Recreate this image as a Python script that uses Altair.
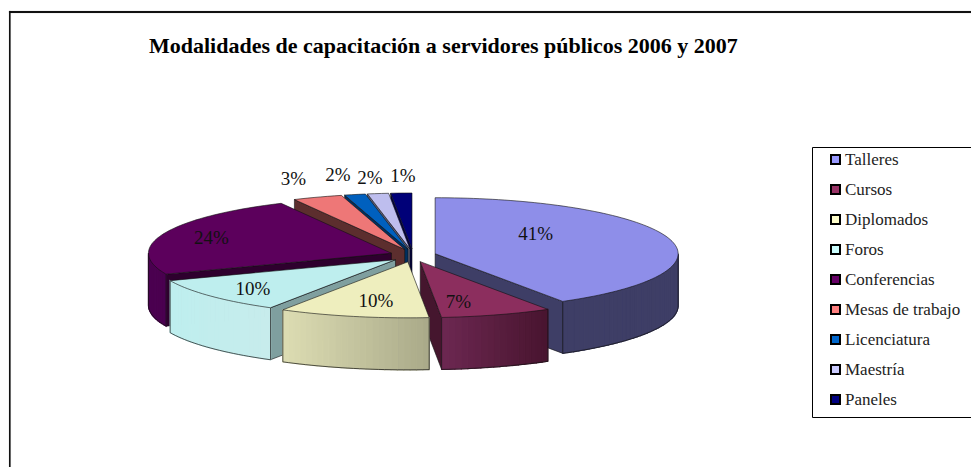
import math
import altair as alt

TITLE = "Modalidades de capacitación a servidores públicos 2006 y 2007"
categories = ["Talleres", "Cursos", "Diplomados", "Foros", "Conferencias",
              "Mesas de trabajo", "Licenciatura", "Maestría", "Paneles"]
# slice sizes as estimated from the drawn angles; printed labels as shown
shares = [41.2, 7.4, 10.0, 10.3, 23.6, 3.3, 1.4, 1.4, 1.4]
labels = ["41%", "7%", "10%", "10%", "24%", "3%", "2%", "2%", "1%"]
legend_colors = ["#9999FF", "#993366", "#FFFFCC", "#CCFFFF", "#660066",
                 "#FF8080", "#0066CC", "#CCCCFF", "#000080"]
top_colors = ["#8E8EE9", "#8C2E5E", "#EEEEBE", "#BEEEEE", "#5C005C",
              "#EE7777", "#0060BE", "#BEBEEE", "#000078"]
rim_left = ["#3E3E66", "#6B2750", "#DCDCB2", "#BEEEEE", "#4B0050",
            "#5C2E2E", "#003366", "#66667F", "#000040"]
rim_right = ["#3E3E66", "#47142E", "#A8A888", "#C8ECEC", "#4B0050",
             "#5C2E2E", "#003366", "#66667F", "#000040"]
cut_colors = ["#3E3E66", "#45162E", "#8F8F70", "#7F9F9F", "#2E002E",
              "#5C2E2E", "#003060", "#5F5F77", "#000040"]

# pie geometry (page pixels)
CX, CY, RX, RY, DEPTH = 413.0, 255.5, 243.0, 56.0, 52.0
EX, EY = 23.0, 6.5
label_f = [0.55, 0.55, 0.55, 0.55, 0.55, 1.0, 1.0, 1.0, 1.0]
label_nudge = [(-28, -11), (-4, 11), (-2, 9), (-41, 9), (-55, -4.5),
               (-24, -18), (-17, -19.5), (-8, -15.6), (1.5, -17)]


def ring_feature(pts, key, stroke="#111111", sw=0.6):
    ring = [list(p) for p in pts] + [list(pts[0])]
    return {"type": "Feature", "geometry": {"type": "Polygon", "coordinates": [ring]},
            "key": key, "line": stroke, "sw": sw}


def line_feature(pts, stroke="#111111", sw=0.7):
    return {"type": "Feature",
            "geometry": {"type": "LineString", "coordinates": [list(p) for p in pts]},
            "key": "transparent", "line": stroke, "sw": sw}


def mix(a, b, t):
    ca = [int(a[i:i + 2], 16) for i in (1, 3, 5)]
    cb = [int(b[i:i + 2], 16) for i in (1, 3, 5)]
    return "#%02X%02X%02X" % tuple(round(x + (y - x) * t) for x, y in zip(ca, cb))


features = [
    # frame and legend box
    ring_feature([(9, 11), (980, 11), (980, 13), (9, 13)], "#111111", "#111111", 0.1),
    ring_feature([(9, 11), (10.6, 11), (10.6, 476), (9, 476)], "#111111", "#111111", 0.1),
    ring_feature([(812.5, 147.5), (985, 147.5), (985, 417.5), (812.5, 417.5)], "#FFFFFF", "#000000", 1),
]

acc = 0.0
spans = []
for s in shares:
    spans.append((acc * 3.6, (acc + s) * 3.6))
    acc += s


def center(i):
    a, b = spans[i]
    m = math.radians((a + b) / 2)
    return CX + EX * math.sin(m), CY - EY * math.cos(m)


def point(i, deg, drop=0.0):
    cx, cy = center(i)
    t = math.radians(deg)
    return cx + RX * math.sin(t), cy - RY * math.cos(t) + drop


order = sorted(range(len(shares)),
               key=lambda i: -math.cos(math.radians(sum(spans[i]) / 2)))
text_rows = []
for i in order:
    a, b = spans[i]
    cx, cy = center(i)
    # cut faces turned to the viewer
    if math.sin(math.radians(a)) < -1e-6:
        p = point(i, a)
        features.append(ring_feature([(cx, cy), p, (p[0], p[1] + DEPTH), (cx, cy + DEPTH)], cut_colors[i]))
    if math.sin(math.radians(b)) > 1e-6:
        p = point(i, b)
        features.append(ring_feature([(cx, cy), p, (p[0], p[1] + DEPTH), (cx, cy + DEPTH)], cut_colors[i]))
    # outer rim, front half only
    lo, hi = max(a, 90.0), min(b, 270.0)
    if hi > lo:
        n = max(1, int((hi - lo) / 1.5))
        xs = [point(i, lo + (hi - lo) * k / n)[0] for k in range(n + 1)]
        xmin, xmax = min(xs), max(xs)
        for k in range(n):
            d0 = lo + (hi - lo) * k / n
            d1 = lo + (hi - lo) * (k + 1) / n
            p0, p1 = point(i, d0), point(i, d1)
            t = (min(p0[0], p1[0]) - xmin) / max(xmax - xmin, 1)
            col = mix(rim_left[i], rim_right[i], t)
            features.append(ring_feature([p0, p1, (p1[0], p1[1] + DEPTH), (p0[0], p0[1] + DEPTH)], col, col, 1.2))
        arc = [point(i, lo + (hi - lo) * k / n, DEPTH) for k in range(n + 1)]
        p0, p1 = point(i, lo), point(i, hi)
        features.append(line_feature([p0] + arc + [p1]))
    # top face
    n = max(2, int((b - a) / 1.5))
    arc = [point(i, a + (b - a) * k / n) for k in range(n + 1)]
    features.append(ring_feature([(cx, cy)] + arc, top_colors[i]))
    # label
    m = math.radians((a + b) / 2)
    f = label_f[i]
    dx, dy = label_nudge[i]
    text_rows.append({"lon": cx + f * RX * math.sin(m) + dx,
                      "lat": cy - f * RY * math.cos(m) + dy,
                      "txt": labels[i]})

shade_keys = sorted({f["key"] for f in features} - set(categories) - {"transparent"})
domain = categories + shade_keys + ["transparent"]
color_range = legend_colors + shade_keys + ["transparent"]

proj = dict(type="identity", scale=1, translate=[-8, -8])

shapes = alt.Chart(alt.Data(values=features)).mark_geoshape().encode(
    color=alt.Color("key:N", scale=alt.Scale(domain=domain, range=color_range),
                    legend=alt.Legend(values=categories, title=None, orient="none",
                                      legendX=819, legendY=143, symbolType="square",
                                      symbolSize=81, symbolStrokeColor="#000000",
                                      symbolStrokeWidth=2, labelFont="Liberation Serif",
                                      labelFontSize=17, labelColor="#222222",
                                      labelLimit=200, rowPadding=12, padding=0,
                                      labelOffset=1)),
    stroke=alt.Stroke("line:N", scale=None),
    strokeWidth=alt.StrokeWidth("sw:Q", scale=None),
).project(**proj)

pct = alt.Chart(alt.Data(values=text_rows)).mark_text(
    font="Liberation Serif", fontSize=19, color="#111111", align="center", baseline="middle"
).encode(longitude="lon:Q", latitude="lat:Q", text="txt:N").project(**proj)

chart = alt.layer(shapes, pct).properties(
    width=963, height=459, padding=0,
    autosize=alt.AutoSizeParams(type="none"),
    title=alt.TitleParams(TITLE, anchor="start", frame="group", dx=141, dy=50,
                          font="Liberation Serif", fontSize=22, fontWeight="bold",
                          color="#000000", offset=0),
).configure_view(stroke=None)

chart.save("out.html", embed_options={"renderer": "svg", "actions": False})
